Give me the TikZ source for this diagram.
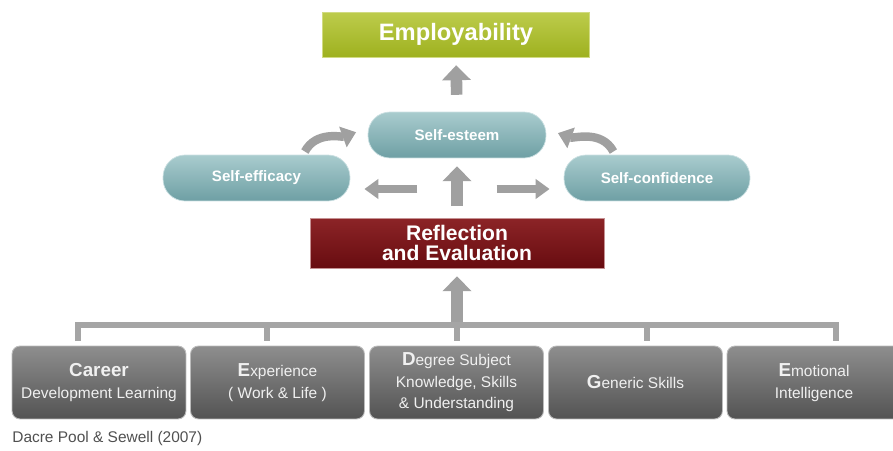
\documentclass[tikz,border=0pt]{standalone}
\usepackage{fontspec}
\setmainfont{Liberation Sans}
\usetikzlibrary{arrows.meta}

\definecolor{olivetop}{HTML}{BDCC4C}
\definecolor{olivebot}{HTML}{9EB11F}
\definecolor{tealtop}{HTML}{A9CCCE}
\definecolor{tealbot}{HTML}{6E9FA4}
\definecolor{wine}{HTML}{8C2427}
\definecolor{winebot}{HTML}{680C10}
\definecolor{slatetop}{HTML}{8E8E8E}
\definecolor{slatebot}{HTML}{535353}
\definecolor{arrowgrey}{HTML}{A0A0A0}
\definecolor{captiongrey}{HTML}{505050}

% bold first letter in the bottom row
\newcommand\capl[1]{{\bfseries\fontsize{10.7}{12.3}\selectfont #1}}

\tikzset{
  goalbox/.style={rectangle, minimum width=5.34cm, minimum height=0.9cm, inner sep=0pt,
    top color=olivetop, bottom color=olivebot, draw=olivetop!70!white, line width=0.4pt,
    text=white, font=\bfseries\fontsize{13.5}{15}\selectfont},
  pill/.style={rectangle, rounded corners=0.44cm, minimum height=0.92cm, inner sep=0pt,
    top color=tealtop, bottom color=tealbot, draw=tealtop!60!white, line width=0.4pt,
    text=white, font=\bfseries\fontsize{8.6}{10}\selectfont},
  reflectbox/.style={rectangle, minimum width=5.88cm, minimum height=1.0cm, inner sep=0pt,
    top color=wine, bottom color=winebot, draw=wine!50!white, line width=0.4pt,
    text=white, align=center, font=\bfseries\fontsize{12}{11.6}\selectfont},
  basebox/.style={rectangle, rounded corners=0.16cm, minimum width=3.48cm, minimum height=1.46cm,
    inner sep=0pt, top color=slatetop, bottom color=slatebot, draw=slatetop!60!white,
    line width=0.5pt, text=white!94!black, align=center, font=\fontsize{8.8}{12.3}\selectfont},
  fat/.style={draw=arrowgrey, line width=6.6pt, -{Triangle[width=16pt,length=8.5pt]}},
  slim/.style={draw=arrowgrey, line width=4.4pt, -{Triangle[width=11pt,length=8pt]}},
  barline/.style={draw=arrowgrey!95!white, line width=3.6pt}
}

\begin{document}
\begin{tikzpicture}[x=0.02cm,y=-0.02cm]
\useasboundingbox (0,0) rectangle (893,450);

%%% top of the model
\node[goalbox] (employ) at (456,34.5) {Employability};
\node[pill, minimum width=3.56cm] (esteem) at (457,135) {Self-esteem};
\node[pill, minimum width=3.74cm] (efficacy) at (256.5,178) {Self-efficacy};
\node[pill, minimum width=3.72cm] (confidence) at (657,178) {Self-confidence};
\node[reflectbox] (reflect) at (457,243) {Reflection\\ and Evaluation};

\coordinate (hub) at (457,189);
\coordinate (bar) at (457,325);

\draw[fat, shorten <=9.6pt, shorten >=4.5pt] (esteem.north) -- (employ.south);
\draw[fat, shorten <=6.5pt, shorten >=4.5pt] (reflect.north) -- (esteem.south);
\draw[slim, shorten <=22.5pt, shorten >=8pt] (hub) -- (hub -| efficacy.east);
\draw[slim, shorten <=22.5pt, shorten >=8pt] (hub) -- (hub -| confidence.west);
\draw[slim, line width=4.8pt, -{Triangle[width=12pt,length=8pt]}, shorten <=2pt, shorten >=7pt] ([xshift=80pt]efficacy.north west) to[out=62,in=200] ([yshift=4pt]esteem.west);
\draw[slim, line width=4.8pt, -{Triangle[width=12pt,length=8pt]}, shorten <=2pt, shorten >=7pt] ([xshift=-77pt]confidence.north east) to[out=118,in=-20] ([yshift=3.5pt]esteem.east);
\draw[fat, shorten >=4.5pt] (bar) -- (reflect.south);

%%% five components
\foreach \name/\x/\txt in {
  career/99/{\capl{Career}\\Development Learning},
  experience/277.5/{\capl{E}xperience\\( Work \& Life )},
  degree/456.5/{\capl{D}egree Subject\\Knowledge, Skills\\\& Understanding},
  generic/635.5/{\capl{G}eneric Skills},
  emotional/814/{\capl{E}motional\\Intelligence}}
  {\node[basebox] (\name) at (\x,382.5) {\txt};}

\draw[barline] (78,341) |- (836,325) -- (836,341);
\foreach \x in {267,457,647} \draw[barline] (\x,325) -- (\x,341);

\node[anchor=base west, inner sep=0pt, text=captiongrey, font=\fontsize{8.8}{10}\selectfont] (source) at (12,442) {Dacre Pool \& Sewell (2007)};
\end{tikzpicture}
\end{document}
